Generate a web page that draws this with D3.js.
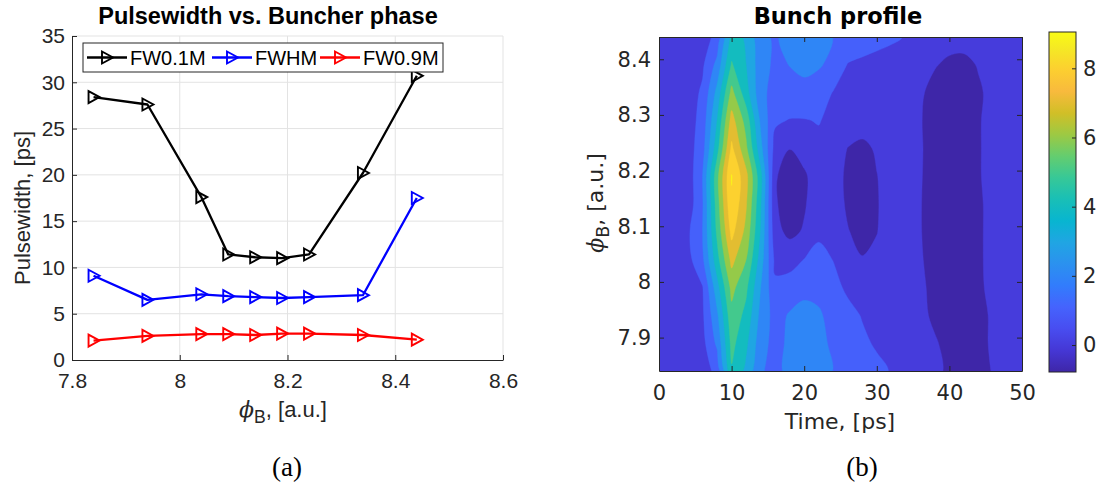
<!DOCTYPE html>
<html>
<head>
<meta charset="utf-8">
<script src="https://cdn.jsdelivr.net/npm/d3@7"></script>
<style>
  body { margin: 0; background: #fff; }
  svg { display: block; }
</style>
</head>
<body>
<svg id="fig" width="1097" height="487"></svg>
<script>
// ---------- (a) pulse width vs buncher phase ----------
const buncherPhase = [7.84, 7.94, 8.04, 8.09, 8.14, 8.19, 8.24, 8.34, 8.44];
const fw01 = [28.4, 27.6, 17.6, 11.4, 11.1, 11.0, 11.4, 20.2, 30.7];
const fwhm = [9.1, 6.5, 7.1, 6.9, 6.8, 6.7, 6.8, 7.0, 17.5];
const fw09 = [2.1, 2.6, 2.8, 2.8, 2.7, 2.85, 2.85, 2.7, 2.2];
const seriesNames = ["FW0.1M", "FWHM", "FW0.9M"];
const xTicksA = [7.8, 8.0, 8.2, 8.4, 8.6];
const yTicksA = [0, 5, 10, 15, 20, 25, 30, 35];

// ---------- (b) bunch profile map ----------
const profileTime = [0, 2, 4, 6, 8, 10, 12, 14, 16, 18, 20, 22, 24, 26, 28, 30, 32, 34, 36, 38, 40, 42, 44, 46, 48, 50];
const profilePhase = [7.84, 7.89, 7.94, 7.99, 8.04, 8.09, 8.14, 8.19, 8.24, 8.29, 8.34, 8.39, 8.44];
// one row per phase (ascending), one column per time sample
const profile = [
  [0.3, 0.3, 0.35, 0.5, 1.3, 4.9, 3.75, 2.1, 1.7, 2.3, 2.6, 2.4, 1.98, 1.7, 1.45, 1.2, 0.95, 0.7, 0.45, 0.25, -0.2, -0.3, -0.3, 0.05, 0.3, 0.3],
  [0.3, 0.3, 0.35, 0.7, 2.2, 5.3, 4.2, 2.4, 1.65, 2.2, 2.5, 2.3, 1.8, 1.45, 1.15, 0.9, 0.7, 0.55, 0.3, 0.1, -0.3, -0.35, -0.2, 0.1, 0.3, 0.3],
  [0.3, 0.3, 0.4, 0.85, 2.8, 5.7, 4.7, 2.7, 1.6, 2.1, 2.35, 2.15, 1.6, 1.25, 0.95, 0.75, 0.6, 0.5, 0.25, -0.2, -0.4, -0.4, -0.2, 0.1, 0.3, 0.3],
  [0.3, 0.3, 0.45, 0.95, 3.6, 6.3, 5.2, 3.0, 1.2, 1.35, 1.7, 1.65, 1.25, 0.85, 0.5, 0.35, 0.35, 0.3, 0.2, -0.3, -0.5, -0.5, -0.1, 0.15, 0.3, 0.3],
  [0.3, 0.3, 0.7, 1.8, 4.6, 7.3, 6.0, 3.5, 0.75, 0.7, 1.02, 1.25, 0.98, 0.6, 0.05, 0.15, 0.35, 0.3, 0.1, -0.4, -0.55, -0.55, -0.1, 0.2, 0.3, 0.3],
  [0.3, 0.3, 0.85, 2.0, 5.2, 8.3, 6.7, 3.9, 0.3, -0.25, 0.1, 0.85, 0.55, 0.05, -0.3, -0.02, 0.3, 0.25, 0.05, -0.5, -0.65, -0.6, -0.1, 0.2, 0.3, 0.3],
  [0.3, 0.3, 0.45, 1.9, 5.5, 8.9, 7.1, 4.1, 0.1, -0.45, -0.1, 0.55, 0.5, -0.15, -0.45, -0.05, 0.3, 0.2, 0.05, -0.55, -0.75, -0.7, -0.1, 0.2, 0.3, 0.3],
  [0.3, 0.3, 0.45, 2.0, 5.7, 9.05, 7.3, 4.3, 0.1, -0.5, -0.15, 0.5, 0.45, -0.2, -0.45, -0.02, 0.3, 0.2, 0.08, -0.5, -0.78, -0.65, -0.05, 0.2, 0.3, 0.3],
  [0.3, 0.3, 0.55, 1.6, 4.6, 8.2, 6.2, 3.3, 0.6, 0.02, 0.4, 0.75, 0.4, -0.02, -0.2, 0.1, 0.3, 0.25, 0.1, -0.45, -0.6, -0.55, -0.05, 0.2, 0.3, 0.3],
  [0.3, 0.3, 0.5, 1.4, 4.0, 7.4, 5.6, 2.8, 1.15, 0.95, 0.95, 1.05, 0.75, 0.55, 0.4, 0.35, 0.35, 0.3, 0.05, -0.35, -0.45, -0.45, -0.05, 0.2, 0.3, 0.3],
  [0.3, 0.3, 0.55, 1.15, 3.3, 6.3, 4.4, 2.3, 1.6, 1.7, 1.75, 1.5, 0.95, 0.7, 0.55, 0.5, 0.45, 0.4, 0.1, -0.25, -0.35, -0.35, -0.1, 0.2, 0.3, 0.3],
  [0.3, 0.3, 0.45, 0.85, 2.3, 5.1, 4.0, 2.4, 1.8, 2.02, 2.2, 2.1, 1.75, 0.95, 0.8, 0.7, 0.6, 0.55, 0.4, 0.05, -0.15, -0.2, 0.05, 0.3, 0.3, 0.3],
  [0.3, 0.3, 0.4, 0.5, 1.3, 4.3, 3.9, 2.2, 1.9, 2.3, 2.6, 2.5, 1.98, 1.7, 1.5, 1.3, 1.15, 0.95, 0.7, 0.45, 0.3, 0.3, 0.35, 0.4, 0.4, 0.4]
];
const contourLevels = [0, 1, 2, 3, 4, 5, 6, 7, 8, 9];
const xTicksB = [0, 10, 20, 30, 40, 50];
const yTicksB = [7.9, 8.0, 8.1, 8.2, 8.3, 8.4];
const cbTicks = [0, 2, 4, 6, 8];

// parula colour map stops
const parulaStops = ["#3e26a8", "#4537d5", "#484df0", "#4563fd", "#327cfc", "#2b91ef", "#20a5e3", "#08b5d0",
  "#19bfb6", "#37c897", "#64cd6f", "#9dc943", "#d1bf27", "#f8ba3d", "#fccf30", "#f5e924", "#f9fb15"];
const stopPos = parulaStops.map((_, i) => Math.min(1, (i * 4) / 63));
const parula = d3.scaleLinear().domain(stopPos).range(parulaStops).interpolate(d3.interpolateRgb).clamp(true);

const INK = "#262626";
const GRID = "#e3e3e3";
const SANS_A = "'Liberation Sans', Arial, sans-serif";
const SANS_B = "'DejaVu Sans', sans-serif";
const SERIF = "'Liberation Serif', 'DejaVu Serif', serif";

const svg = d3.select("#fig");

// =====================================================================
// (a) line chart
// =====================================================================
const A = { left: 72, right: 503, top: 36, bottom: 360 };
const xA = d3.scaleLinear().domain([7.8, 8.6]).range([A.left, A.right]);
const yA = d3.scaleLinear().domain([0, 35]).range([A.bottom, A.top]);
const gA = svg.append("g");

// grid
gA.append("g").selectAll("line").data(xTicksA.slice(1)).join("line")
  .attr("x1", d => xA(d)).attr("x2", d => xA(d))
  .attr("y1", A.top).attr("y2", A.bottom)
  .attr("stroke", GRID).attr("stroke-width", 1);
gA.append("g").selectAll("line").data(yTicksA.slice(1)).join("line")
  .attr("x1", A.left).attr("x2", A.right)
  .attr("y1", d => yA(d)).attr("y2", d => yA(d))
  .attr("stroke", GRID).attr("stroke-width", 1);

function styleAxis(g, font, size) {
  g.select(".domain").attr("stroke", INK);
  g.selectAll(".tick line").attr("stroke", INK);
  g.selectAll(".tick text").attr("fill", INK).attr("font-family", font).attr("font-size", size);
}

gA.append("g").attr("transform", `translate(0,${A.bottom})`)
  .call(d3.axisBottom(xA).tickValues(xTicksA).tickSize(-5).tickSizeOuter(0).tickPadding(13)
    .tickFormat(d => d3.format("")(+d.toFixed(1))))
  .call(g => styleAxis(g, SANS_A, 21));
gA.append("g").attr("transform", `translate(${A.left},0)`)
  .call(d3.axisLeft(yA).tickValues(yTicksA).tickSize(-5).tickSizeOuter(0).tickPadding(7))
  .call(g => styleAxis(g, SANS_A, 21));

const series = [
  { name: seriesNames[0], values: fw01, color: "#000000" },
  { name: seriesNames[1], values: fwhm, color: "#0000ff" },
  { name: seriesNames[2], values: fw09, color: "#ff0000" }
];
const tri = "M-5,-6L6,0L-5,6Z";
const line = d3.line().x((d, i) => xA(buncherPhase[i])).y(d => yA(d));

series.forEach(s => {
  gA.append("path").attr("d", line(s.values))
    .attr("fill", "none").attr("stroke", s.color).attr("stroke-width", 2.3)
    .attr("stroke-linejoin", "round");
  gA.append("g").selectAll("path").data(s.values).join("path")
    .attr("d", tri)
    .attr("transform", (d, i) => `translate(${xA(buncherPhase[i])},${yA(d)})`)
    .attr("fill", "none").attr("stroke", s.color).attr("stroke-width", 1.9);
});

// legend
const leg = gA.append("g");
leg.append("rect").attr("x", 83).attr("y", 43).attr("width", 360).attr("height", 29)
  .attr("fill", "#fff").attr("stroke", INK).attr("stroke-width", 1);
const legX = [87, 212, 320];
series.forEach((s, i) => {
  const x0 = legX[i], cy = 57.5;
  leg.append("line").attr("x1", x0).attr("x2", x0 + 40).attr("y1", cy).attr("y2", cy)
    .attr("stroke", s.color).attr("stroke-width", 2.3);
  leg.append("path").attr("d", tri).attr("transform", `translate(${x0 + 20},${cy})`)
    .attr("fill", "none").attr("stroke", s.color).attr("stroke-width", 1.9);
  leg.append("text").attr("x", x0 + 43).attr("y", cy + 7).text(s.name)
    .attr("font-family", SANS_A).attr("font-size", 20).attr("fill", "#000");
});

// titles and labels
gA.append("text").attr("x", 268).attr("y", 24).attr("text-anchor", "middle")
  .attr("font-family", SANS_A).attr("font-weight", "bold").attr("font-size", 23.5).attr("fill", "#000")
  .text("Pulsewidth vs. Buncher phase");
gA.append("text").attr("transform", "translate(30,208) rotate(-90)").attr("text-anchor", "middle")
  .attr("font-family", SANS_A).attr("font-size", 22).attr("fill", INK)
  .text("Pulsewidth, [ps]");

function phiLabel(sel, size, font) {
  sel.append("tspan").attr("font-family", "'DejaVu Serif', serif").attr("font-style", "italic").text("\u03D5");
  sel.append("tspan").attr("dy", 6).attr("font-size", size * 0.8).attr("font-family", font).text("B");
  sel.append("tspan").attr("dy", -6).attr("font-family", font).text(", [a.u.]");
}
gA.append("text").attr("x", 283).attr("y", 417).attr("text-anchor", "middle")
  .attr("font-family", SANS_A).attr("font-size", 22).attr("fill", INK)
  .call(phiLabel, 22, SANS_A);

svg.append("text").attr("x", 287).attr("y", 476).attr("text-anchor", "middle")
  .attr("font-family", SERIF).attr("font-size", 27).attr("fill", "#000").text("(a)");

// =====================================================================
// (b) filled contour map
// =====================================================================
const B = { left: 659, right: 1022, top: 37, bottom: 371 };
const xB = d3.scaleLinear().domain(d3.extent(profileTime)).range([B.left, B.right]);
const yB = d3.scaleLinear().domain(d3.extent(profilePhase)).range([B.bottom, B.top]);
const gB = svg.append("g");

const nx = profileTime.length, ny = profilePhase.length;
const flat = profile.flat();
const [zMin, zMax] = d3.extent(flat);
const colorOf = v => parula((v - zMin) / (zMax - zMin));

// contour grid coordinates -> data -> pixels (sample i sits at i + 0.5)
const idxToTime = d3.scaleLinear().domain(profileTime.map((_, i) => i)).range(profileTime);
const idxToPhase = d3.scaleLinear().domain(profilePhase.map((_, i) => i)).range(profilePhase);
const toPx = (x, y) => [xB(idxToTime(x - 0.5)), yB(idxToPhase(y - 0.5))];

// rounded outlines for the filled bands
const smoothRing = d3.line().curve(d3.curveCatmullRomClosed.alpha(0.5));
function bandPath(mp) {
  let d = "";
  mp.coordinates.forEach(poly => poly.forEach(ring => {
    const pts = [];
    ring.forEach(([x, y]) => {
      const p = toPx(x, y);
      const last = pts[pts.length - 1];
      if (!last || Math.hypot(last[0] - p[0], last[1] - p[1]) > 0.4) pts.push(p);
    });
    if (pts.length > 2) {
      const a = pts[0], b = pts[pts.length - 1];
      if (Math.hypot(a[0] - b[0], a[1] - b[1]) < 0.4) pts.pop();
      d += smoothRing(pts);
    }
  }));
  return d;
}

svg.append("clipPath").attr("id", "clipB").append("rect")
  .attr("x", B.left).attr("y", B.top).attr("width", B.right - B.left).attr("height", B.bottom - B.top);

const mapG = gB.append("g").attr("clip-path", "url(#clipB)");
mapG.append("rect").attr("x", B.left).attr("y", B.top)
  .attr("width", B.right - B.left).attr("height", B.bottom - B.top)
  .attr("fill", colorOf(zMin));
const bands = d3.contours().size([nx, ny]).thresholds(contourLevels)(flat);
mapG.selectAll("path").data(bands).join("path")
  .attr("d", bandPath)
  .attr("fill-rule", "evenodd")
  .attr("fill", d => colorOf(d.value))
  .attr("stroke", d => colorOf(d.value)).attr("stroke-width", 0.4);

// axes box with inward ticks on all sides
gB.append("g").attr("transform", `translate(0,${B.bottom})`)
  .call(d3.axisBottom(xB).tickValues(xTicksB).tickSize(-5).tickSizeOuter(0).tickPadding(14))
  .call(g => styleAxis(g, SANS_B, 21));
gB.append("g").attr("transform", `translate(0,${B.top})`)
  .call(d3.axisTop(xB).tickValues(xTicksB).tickSize(-5).tickSizeOuter(0).tickFormat(""))
  .call(g => styleAxis(g, SANS_B, 21));
gB.append("g").attr("transform", `translate(${B.left},0)`)
  .call(d3.axisLeft(yB).tickValues(yTicksB).tickSize(-5).tickSizeOuter(0).tickPadding(8)
    .tickFormat(d => d3.format("")(+d.toFixed(1))))
  .call(g => styleAxis(g, SANS_B, 21));
gB.append("g").attr("transform", `translate(${B.right},0)`)
  .call(d3.axisRight(yB).tickValues(yTicksB).tickSize(-5).tickSizeOuter(0).tickFormat(""))
  .call(g => styleAxis(g, SANS_B, 21));

gB.append("text").attr("x", 838).attr("y", 24).attr("text-anchor", "middle")
  .attr("font-family", SANS_B).attr("font-weight", "bold").attr("font-size", 22.5).attr("fill", "#000")
  .text("Bunch profile");
gB.append("text").attr("x", 840).attr("y", 429).attr("text-anchor", "middle")
  .attr("font-family", SANS_B).attr("font-size", 22).attr("fill", INK)
  .text("Time, [ps]");
gB.append("text").attr("transform", "translate(603,203) rotate(-90)").attr("text-anchor", "middle")
  .attr("font-family", SANS_B).attr("font-size", 22).attr("fill", INK)
  .call(phiLabel, 22, SANS_B);

svg.append("text").attr("x", 862).attr("y", 476).attr("text-anchor", "middle")
  .attr("font-family", SERIF).attr("font-size", 27).attr("fill", "#000").text("(b)");

// colour bar
const CB = { left: 1049, right: 1076, top: 32, bottom: 372 };
const yCB = d3.scaleLinear().domain([zMin, zMax]).range([CB.bottom, CB.top]);
const grad = svg.append("defs").append("linearGradient").attr("id", "cbGrad")
  .attr("x1", 0).attr("y1", 1).attr("x2", 0).attr("y2", 0);
grad.selectAll("stop").data(parulaStops).join("stop")
  .attr("offset", (d, i) => stopPos[i]).attr("stop-color", d => d);
gB.append("rect").attr("x", CB.left).attr("y", CB.top)
  .attr("width", CB.right - CB.left).attr("height", CB.bottom - CB.top)
  .attr("fill", "url(#cbGrad)").attr("stroke", INK).attr("stroke-width", 1);
gB.append("g").attr("transform", `translate(${CB.right},0)`)
  .call(d3.axisRight(yCB).tickValues(cbTicks).tickSize(-4).tickSizeOuter(0).tickPadding(7))
  .call(g => { styleAxis(g, SANS_B, 21); g.select(".domain").remove(); });
</script>
</body>
</html>
